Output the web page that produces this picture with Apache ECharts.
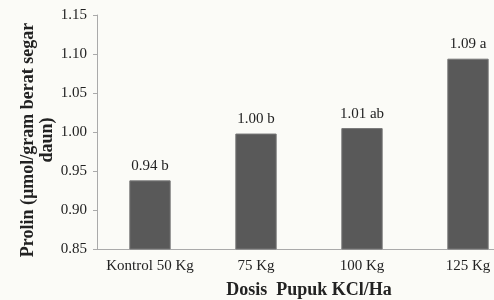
<!DOCTYPE html>
<html>
<head>
    <meta charset="utf-8">
    <title>Prolin</title>
    <script src="https://cdn.jsdelivr.net/npm/echarts@6/dist/echarts.min.js"></script>
    <style>
        body { margin: 0; background: #fbfbf7; }
        #main { width: 494px; height: 300px; }
    </style>
</head>
<body>
<div id="main"></div>
<script>
    var categories = ['Kontrol 50 Kg', '75 Kg', '100 Kg', '125 Kg'];
    var prolin = [0.938, 0.998, 1.005, 1.094];
    var notasi = ['0.94 b', '1.00 b', '1.01 ab', '1.09 a'];
    var yTicks = [0.85, 0.90, 0.95, 1.00, 1.05, 1.10, 1.15];

    var myChart = echarts.init(document.getElementById('main'));

    var option = {
        backgroundColor: '#fbfbf7',
        textStyle: { fontFamily: 'Liberation Serif' },
        grid: { left: 97, top: 15, width: 424, height: 234, outerBoundsMode: 'none', containLabel: false },
        xAxis: {
            type: 'category',
            data: categories,
            name: 'Dosis  Pupuk KCl/Ha',
            nameLocation: 'middle',
            nameGap: 32,
            nameMoveOverlap: false,
            nameTextStyle: { fontSize: 18, fontWeight: 'bold', color: '#222' },
            axisLine: { lineStyle: { color: '#aaa' } },
            axisTick: { alignWithLabel: false, length: 4, lineStyle: { color: '#aaa' } },
            axisLabel: { fontSize: 15, color: '#222', margin: 10, interval: 0 }
        },
        yAxis: {
            type: 'value',
            min: yTicks[0],
            max: yTicks[yTicks.length - 1],
            interval: 0.05,
            name: 'Prolin (µmol/gram berat segar\ndaun)',
            nameLocation: 'middle',
            nameGap: 40,
            nameMoveOverlap: false,
            nameRotate: 90,
            nameTextStyle: { fontSize: 18, fontWeight: 'bold', color: '#222', lineHeight: 19, align: 'center', padding: [0, 16, 0, 0] },
            axisLine: { show: true, lineStyle: { color: '#aaa' } },
            axisTick: { show: true, length: 4, lineStyle: { color: '#aaa' } },
            splitLine: { show: false },
            axisLabel: {
                fontSize: 15, color: '#222', margin: 10,
                formatter: function (v) { return v.toFixed(2); }
            }
        },
        series: [{
            type: 'bar',
            data: prolin,
            barWidth: '39%',
            itemStyle: { color: '#595959', borderColor: '#777', borderWidth: 1 },
            label: {
                show: true,
                position: 'top',
                distance: 7,
                fontSize: 15,
                color: '#222',
                formatter: function (p) { return notasi[p.dataIndex]; }
            }
        }]
    };

    myChart.setOption(option);
</script>
</body>
</html>
